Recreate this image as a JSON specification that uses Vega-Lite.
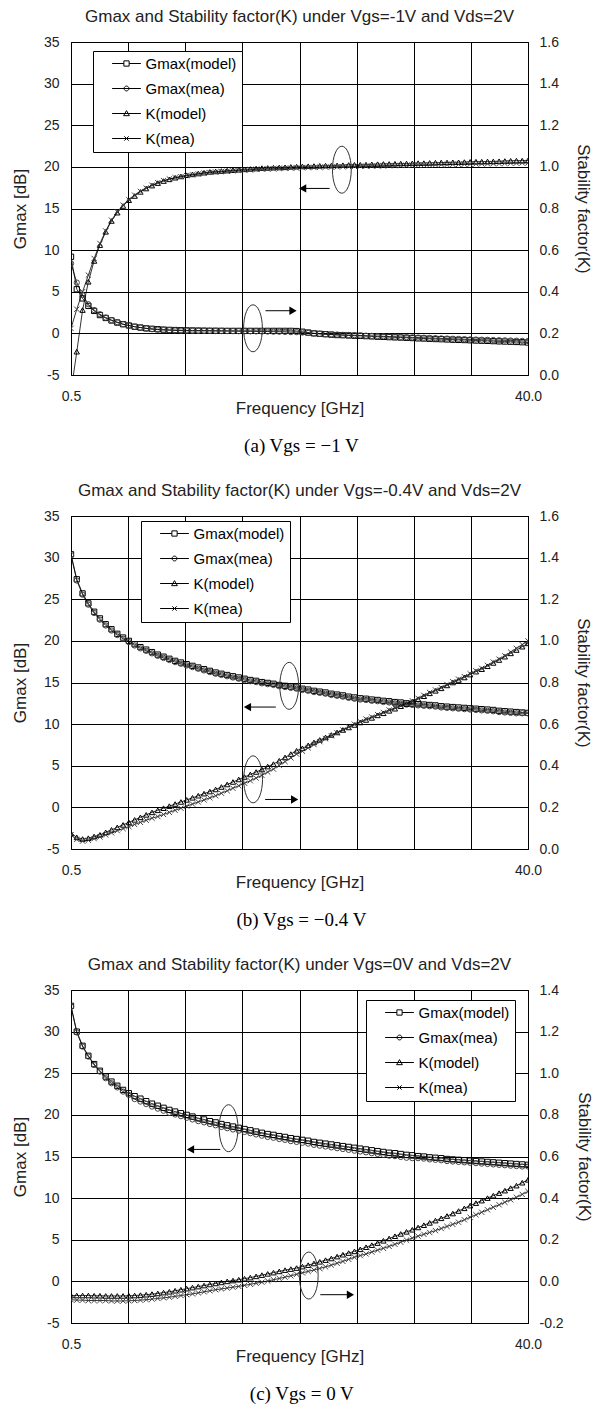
{
"$schema":"https://vega.github.io/schema/vega-lite/v6.json",
"background":"white",
"padding":{"left":10,"top":7,"right":5,"bottom":5},
"config":{"view":{"stroke":"black","strokeWidth":1},"font":"Liberation Sans",
"axis":{"labelFont":"Liberation Sans","labelFontSize":14,"labelColor":"#222","titleFont":"Liberation Sans","titleFontSize":17,"titleFontWeight":"normal","titleColor":"#222","ticks":false,"domain":false,"gridColor":"black","gridOpacity":1,"gridWidth":1},
"legend":{"title":null,"orient":"none","padding":5,"rowPadding":9,"strokeColor":"black","fillColor":"white","labelFont":"Liberation Sans","labelFontSize":15,"labelColor":"black","symbolSize":92,"symbolOffset":21,"labelOffset":11.5,"symbolOpacity":1,"symbolFillColor":"transparent","symbolStrokeColor":"black","symbolStrokeWidth":1},
"title":{"font":"Liberation Sans","fontSize":17,"fontWeight":"normal","color":"#222"}},
"datasets":{
"a":[
{"f":0.5,"gm":9.2,"ge":8.4,"km":-0.08,"ke":0.224},{"f":1,"gm":5.3,"ge":6.1,"km":0.112,"ke":0.316},{"f":1.5,"gm":4.2,"ge":4.6,"km":0.312,"ke":0.4},{"f":2,"gm":3.3,"ge":3.5,"km":0.448,"ke":0.48},{"f":2.5,"gm":2.7,"ge":2.8,"km":0.548,"ke":0.56},{"f":3,"gm":2.2,"ge":2.3,"km":0.624,"ke":0.632},{"f":3.5,"gm":1.85,"ge":1.9,"km":0.688,"ke":0.692},{"f":4,"gm":1.55,"ge":1.6,"km":0.74,"ke":0.744},{"f":4.5,"gm":1.3,"ge":1.35,"km":0.78,"ke":0.784},{"f":5,"gm":1.1,"ge":1.1,"km":0.812,"ke":0.816},
{"f":5.5,"gm":0.95,"ge":0.95,"km":0.84,"ke":0.842},{"f":6,"gm":0.8,"ge":0.8,"km":0.86,"ke":0.864},{"f":6.5,"gm":0.7,"ge":0.7,"km":0.88,"ke":0.882},{"f":7,"gm":0.6,"ge":0.6,"km":0.896,"ke":0.898},{"f":7.5,"gm":0.55,"ge":0.5,"km":0.91,"ke":0.912},{"f":8,"gm":0.5,"ge":0.45,"km":0.922,"ke":0.924},{"f":8.5,"gm":0.45,"ge":0.4,"km":0.932,"ke":0.934},{"f":9,"gm":0.42,"ge":0.38,"km":0.94,"ke":0.942},{"f":9.5,"gm":0.4,"ge":0.35,"km":0.948,"ke":0.948},{"f":10,"gm":0.38,"ge":0.33,"km":0.954,"ke":0.953},
{"f":10.5,"gm":0.36,"ge":0.32,"km":0.96,"ke":0.958},{"f":11,"gm":0.35,"ge":0.3,"km":0.964,"ke":0.962},{"f":11.5,"gm":0.34,"ge":0.3,"km":0.968,"ke":0.966},{"f":12,"gm":0.33,"ge":0.3,"km":0.972,"ke":0.97},{"f":12.5,"gm":0.32,"ge":0.3,"km":0.976,"ke":0.973},{"f":13,"gm":0.32,"ge":0.28,"km":0.978,"ke":0.975},{"f":13.5,"gm":0.31,"ge":0.28,"km":0.98,"ke":0.977},{"f":14,"gm":0.3,"ge":0.28,"km":0.982,"ke":0.979},{"f":14.5,"gm":0.3,"ge":0.27,"km":0.984,"ke":0.981},{"f":15,"gm":0.3,"ge":0.26,"km":0.986,"ke":0.983},
{"f":15.5,"gm":0.3,"ge":0.25,"km":0.988,"ke":0.984},{"f":16,"gm":0.3,"ge":0.25,"km":0.99,"ke":0.986},{"f":16.5,"gm":0.3,"ge":0.24,"km":0.992,"ke":0.988},{"f":17,"gm":0.3,"ge":0.23,"km":0.994,"ke":0.989},{"f":17.5,"gm":0.3,"ge":0.22,"km":0.995,"ke":0.99},{"f":18,"gm":0.3,"ge":0.2,"km":0.996,"ke":0.991},{"f":18.5,"gm":0.3,"ge":0.2,"km":0.997,"ke":0.992},{"f":19,"gm":0.3,"ge":0.18,"km":0.998,"ke":0.993},{"f":19.5,"gm":0.3,"ge":0.15,"km":1.0,"ke":0.994},{"f":20,"gm":0.28,"ge":0.15,"km":1.001,"ke":0.995},
{"f":20.5,"gm":0.2,"ge":0.1,"km":1.002,"ke":0.996},{"f":21,"gm":0.1,"ge":0.05,"km":1.003,"ke":0.997},{"f":21.5,"gm":0.0,"ge":0.0,"km":1.004,"ke":0.997},{"f":22,"gm":-0.05,"ge":-0.05,"km":1.005,"ke":0.998},{"f":22.5,"gm":-0.1,"ge":-0.1,"km":1.006,"ke":0.999},{"f":23,"gm":-0.15,"ge":-0.12,"km":1.006,"ke":0.999},{"f":23.5,"gm":-0.2,"ge":-0.15,"km":1.007,"ke":1.0},{"f":24,"gm":-0.22,"ge":-0.18,"km":1.008,"ke":1.001},{"f":24.5,"gm":-0.25,"ge":-0.2,"km":1.009,"ke":1.001},{"f":25,"gm":-0.28,"ge":-0.22,"km":1.01,"ke":1.002},
{"f":25.5,"gm":-0.3,"ge":-0.25,"km":1.01,"ke":1.003},{"f":26,"gm":-0.33,"ge":-0.28,"km":1.011,"ke":1.003},{"f":26.5,"gm":-0.36,"ge":-0.3,"km":1.012,"ke":1.004},{"f":27,"gm":-0.4,"ge":-0.32,"km":1.013,"ke":1.004},{"f":27.5,"gm":-0.42,"ge":-0.35,"km":1.014,"ke":1.005},{"f":28,"gm":-0.45,"ge":-0.38,"km":1.014,"ke":1.006},{"f":28.5,"gm":-0.48,"ge":-0.4,"km":1.015,"ke":1.006},{"f":29,"gm":-0.5,"ge":-0.42,"km":1.016,"ke":1.007},{"f":29.5,"gm":-0.53,"ge":-0.45,"km":1.016,"ke":1.007},{"f":30,"gm":-0.56,"ge":-0.48,"km":1.017,"ke":1.008},
{"f":30.5,"gm":-0.6,"ge":-0.5,"km":1.018,"ke":1.008},{"f":31,"gm":-0.62,"ge":-0.52,"km":1.018,"ke":1.009},{"f":31.5,"gm":-0.65,"ge":-0.55,"km":1.019,"ke":1.009},{"f":32,"gm":-0.68,"ge":-0.57,"km":1.02,"ke":1.01},{"f":32.5,"gm":-0.7,"ge":-0.6,"km":1.021,"ke":1.011},{"f":33,"gm":-0.73,"ge":-0.62,"km":1.021,"ke":1.011},{"f":33.5,"gm":-0.76,"ge":-0.65,"km":1.022,"ke":1.012},{"f":34,"gm":-0.78,"ge":-0.67,"km":1.022,"ke":1.012},{"f":34.5,"gm":-0.8,"ge":-0.7,"km":1.023,"ke":1.013},{"f":35,"gm":-0.83,"ge":-0.72,"km":1.024,"ke":1.013},
{"f":35.5,"gm":-0.86,"ge":-0.74,"km":1.025,"ke":1.014},{"f":36,"gm":-0.88,"ge":-0.76,"km":1.025,"ke":1.015},{"f":36.5,"gm":-0.9,"ge":-0.78,"km":1.026,"ke":1.015},{"f":37,"gm":-0.93,"ge":-0.8,"km":1.026,"ke":1.016},{"f":37.5,"gm":-0.96,"ge":-0.82,"km":1.027,"ke":1.016},{"f":38,"gm":-0.98,"ge":-0.84,"km":1.028,"ke":1.017},{"f":38.5,"gm":-1.0,"ge":-0.86,"km":1.029,"ke":1.018},{"f":39,"gm":-1.03,"ge":-0.88,"km":1.03,"ke":1.018},{"f":39.5,"gm":-1.06,"ge":-0.9,"km":1.03,"ke":1.019},{"f":40,"gm":-1.1,"ge":-0.92,"km":1.031,"ke":1.019}],
"b":[
{"f":0.5,"gm":30.4,"ge":30.3,"km":0.076,"ke":0.068},{"f":1,"gm":27.4,"ge":27.25,"km":0.056,"ke":0.046},{"f":1.5,"gm":25.7,"ge":25.55,"km":0.048,"ke":0.038},{"f":2,"gm":24.5,"ge":24.35,"km":0.052,"ke":0.042},{"f":2.5,"gm":23.5,"ge":23.35,"km":0.06,"ke":0.05},{"f":3,"gm":22.7,"ge":22.55,"km":0.068,"ke":0.058},{"f":3.5,"gm":22.0,"ge":21.85,"km":0.08,"ke":0.068},{"f":4,"gm":21.4,"ge":21.25,"km":0.092,"ke":0.078},{"f":4.5,"gm":20.85,"ge":20.7,"km":0.104,"ke":0.088},{"f":5,"gm":20.4,"ge":20.25,"km":0.116,"ke":0.098},
{"f":5.5,"gm":20.0,"ge":19.85,"km":0.128,"ke":0.108},{"f":6,"gm":19.6,"ge":19.45,"km":0.14,"ke":0.118},{"f":6.5,"gm":19.25,"ge":19.1,"km":0.152,"ke":0.128},{"f":7,"gm":18.95,"ge":18.8,"km":0.164,"ke":0.138},{"f":7.5,"gm":18.65,"ge":18.5,"km":0.176,"ke":0.148},{"f":8,"gm":18.35,"ge":18.2,"km":0.186,"ke":0.156},{"f":8.5,"gm":18.1,"ge":17.95,"km":0.196,"ke":0.166},{"f":9,"gm":17.85,"ge":17.7,"km":0.206,"ke":0.176},{"f":9.5,"gm":17.6,"ge":17.45,"km":0.216,"ke":0.186},{"f":10,"gm":17.4,"ge":17.25,"km":0.226,"ke":0.196},
{"f":10.5,"gm":17.2,"ge":17.05,"km":0.236,"ke":0.206},{"f":11,"gm":17.0,"ge":16.85,"km":0.246,"ke":0.216},{"f":11.5,"gm":16.8,"ge":16.65,"km":0.256,"ke":0.226},{"f":12,"gm":16.6,"ge":16.45,"km":0.266,"ke":0.236},{"f":12.5,"gm":16.4,"ge":16.25,"km":0.276,"ke":0.246},{"f":13,"gm":16.2,"ge":16.05,"km":0.286,"ke":0.256},{"f":13.5,"gm":16.05,"ge":15.9,"km":0.298,"ke":0.268},{"f":14,"gm":15.9,"ge":15.75,"km":0.31,"ke":0.28},{"f":14.5,"gm":15.75,"ge":15.6,"km":0.322,"ke":0.292},{"f":15,"gm":15.6,"ge":15.45,"km":0.334,"ke":0.304},
{"f":15.5,"gm":15.45,"ge":15.3,"km":0.346,"ke":0.316},{"f":16,"gm":15.3,"ge":15.15,"km":0.358,"ke":0.328},{"f":16.5,"gm":15.2,"ge":15.05,"km":0.37,"ke":0.341},{"f":17,"gm":15.05,"ge":14.9,"km":0.382,"ke":0.354},{"f":17.5,"gm":14.95,"ge":14.8,"km":0.396,"ke":0.37},{"f":18,"gm":14.85,"ge":14.7,"km":0.408,"ke":0.384},{"f":18.5,"gm":14.7,"ge":14.55,"km":0.424,"ke":0.402},{"f":19,"gm":14.6,"ge":14.45,"km":0.44,"ke":0.42},{"f":19.5,"gm":14.5,"ge":14.35,"km":0.456,"ke":0.438},{"f":20,"gm":14.4,"ge":14.25,"km":0.472,"ke":0.456},
{"f":20.5,"gm":14.25,"ge":14.1,"km":0.484,"ke":0.47},{"f":21,"gm":14.15,"ge":14.0,"km":0.498,"ke":0.486},{"f":21.5,"gm":14.0,"ge":13.85,"km":0.512,"ke":0.502},{"f":22,"gm":13.9,"ge":13.75,"km":0.524,"ke":0.516},{"f":22.5,"gm":13.8,"ge":13.65,"km":0.536,"ke":0.53},{"f":23,"gm":13.65,"ge":13.5,"km":0.548,"ke":0.544},{"f":23.5,"gm":13.55,"ge":13.4,"km":0.56,"ke":0.558},{"f":24,"gm":13.45,"ge":13.3,"km":0.572,"ke":0.572},{"f":24.5,"gm":13.3,"ge":13.15,"km":0.584,"ke":0.586},{"f":25,"gm":13.2,"ge":13.05,"km":0.596,"ke":0.6},
{"f":25.5,"gm":13.1,"ge":12.95,"km":0.608,"ke":0.612},{"f":26,"gm":13.05,"ge":12.9,"km":0.62,"ke":0.624},{"f":26.5,"gm":12.95,"ge":12.8,"km":0.63,"ke":0.634},{"f":27,"gm":12.9,"ge":12.75,"km":0.642,"ke":0.646},{"f":27.5,"gm":12.8,"ge":12.65,"km":0.652,"ke":0.656},{"f":28,"gm":12.75,"ge":12.6,"km":0.664,"ke":0.668},{"f":28.5,"gm":12.65,"ge":12.5,"km":0.674,"ke":0.678},{"f":29,"gm":12.6,"ge":12.45,"km":0.686,"ke":0.69},{"f":29.5,"gm":12.5,"ge":12.35,"km":0.696,"ke":0.7},{"f":30,"gm":12.45,"ge":12.3,"km":0.708,"ke":0.712},
{"f":30.5,"gm":12.4,"ge":12.25,"km":0.72,"ke":0.724},{"f":31,"gm":12.35,"ge":12.2,"km":0.734,"ke":0.738},{"f":31.5,"gm":12.3,"ge":12.15,"km":0.748,"ke":0.752},{"f":32,"gm":12.25,"ge":12.1,"km":0.76,"ke":0.764},{"f":32.5,"gm":12.15,"ge":12.0,"km":0.772,"ke":0.776},{"f":33,"gm":12.1,"ge":11.95,"km":0.786,"ke":0.79},{"f":33.5,"gm":12.05,"ge":11.9,"km":0.8,"ke":0.804},{"f":34,"gm":12.0,"ge":11.85,"km":0.812,"ke":0.816},{"f":34.5,"gm":11.95,"ge":11.8,"km":0.824,"ke":0.828},{"f":35,"gm":11.9,"ge":11.75,"km":0.838,"ke":0.842},
{"f":35.5,"gm":11.85,"ge":11.7,"km":0.852,"ke":0.856},{"f":36,"gm":11.8,"ge":11.65,"km":0.864,"ke":0.868},{"f":36.5,"gm":11.75,"ge":11.6,"km":0.878,"ke":0.882},{"f":37,"gm":11.7,"ge":11.55,"km":0.894,"ke":0.898},{"f":37.5,"gm":11.6,"ge":11.45,"km":0.908,"ke":0.912},{"f":38,"gm":11.55,"ge":11.4,"km":0.924,"ke":0.928},{"f":38.5,"gm":11.5,"ge":11.35,"km":0.94,"ke":0.946},{"f":39,"gm":11.45,"ge":11.3,"km":0.956,"ke":0.964},{"f":39.5,"gm":11.4,"ge":11.3,"km":0.972,"ke":0.982},{"f":40,"gm":11.35,"ge":11.3,"km":0.988,"ke":1.0}],
"c":[
{"f":0.5,"gm":33.1,"ge":33.0,"km":-0.068,"ke":-0.088},{"f":1,"gm":30.0,"ge":29.9,"km":-0.068,"ke":-0.09},{"f":1.5,"gm":28.3,"ge":28.2,"km":-0.068,"ke":-0.09},{"f":2,"gm":27.1,"ge":27.0,"km":-0.068,"ke":-0.092},{"f":2.5,"gm":26.1,"ge":26.0,"km":-0.069,"ke":-0.092},{"f":3,"gm":25.3,"ge":25.2,"km":-0.069,"ke":-0.092},{"f":3.5,"gm":24.6,"ge":24.4,"km":-0.07,"ke":-0.092},{"f":4,"gm":24.0,"ge":23.8,"km":-0.07,"ke":-0.094},{"f":4.5,"gm":23.5,"ge":23.3,"km":-0.07,"ke":-0.094},{"f":5,"gm":23.0,"ge":22.8,"km":-0.07,"ke":-0.094},
{"f":5.5,"gm":22.6,"ge":22.4,"km":-0.069,"ke":-0.093},{"f":6,"gm":22.25,"ge":21.9,"km":-0.068,"ke":-0.092},{"f":6.5,"gm":21.95,"ge":21.6,"km":-0.066,"ke":-0.09},{"f":7,"gm":21.65,"ge":21.3,"km":-0.064,"ke":-0.088},{"f":7.5,"gm":21.35,"ge":21.0,"km":-0.061,"ke":-0.085},{"f":8,"gm":21.1,"ge":20.75,"km":-0.058,"ke":-0.082},{"f":8.5,"gm":20.85,"ge":20.5,"km":-0.054,"ke":-0.079},{"f":9,"gm":20.6,"ge":20.25,"km":-0.05,"ke":-0.076},{"f":9.5,"gm":20.4,"ge":20.05,"km":-0.045,"ke":-0.072},{"f":10,"gm":20.2,"ge":19.85,"km":-0.04,"ke":-0.068},
{"f":10.5,"gm":20.0,"ge":19.65,"km":-0.035,"ke":-0.064},{"f":11,"gm":19.8,"ge":19.45,"km":-0.03,"ke":-0.06},{"f":11.5,"gm":19.6,"ge":19.25,"km":-0.025,"ke":-0.055},{"f":12,"gm":19.45,"ge":19.1,"km":-0.02,"ke":-0.05},{"f":12.5,"gm":19.25,"ge":18.9,"km":-0.015,"ke":-0.045},{"f":13,"gm":19.1,"ge":18.75,"km":-0.01,"ke":-0.04},{"f":13.5,"gm":18.9,"ge":18.55,"km":-0.005,"ke":-0.036},{"f":14,"gm":18.75,"ge":18.4,"km":0.0,"ke":-0.032},{"f":14.5,"gm":18.6,"ge":18.25,"km":0.004,"ke":-0.028},{"f":15,"gm":18.45,"ge":18.1,"km":0.008,"ke":-0.024},
{"f":15.5,"gm":18.3,"ge":17.95,"km":0.013,"ke":-0.019},{"f":16,"gm":18.15,"ge":17.8,"km":0.018,"ke":-0.014},{"f":16.5,"gm":18.0,"ge":17.65,"km":0.024,"ke":-0.009},{"f":17,"gm":17.85,"ge":17.5,"km":0.03,"ke":-0.004},{"f":17.5,"gm":17.7,"ge":17.35,"km":0.036,"ke":0.002},{"f":18,"gm":17.6,"ge":17.25,"km":0.042,"ke":0.008},{"f":18.5,"gm":17.45,"ge":17.1,"km":0.048,"ke":0.014},{"f":19,"gm":17.35,"ge":17.0,"km":0.054,"ke":0.02},{"f":19.5,"gm":17.2,"ge":16.85,"km":0.059,"ke":0.027},{"f":20,"gm":17.1,"ge":16.75,"km":0.064,"ke":0.034},
{"f":20.5,"gm":17.0,"ge":16.65,"km":0.071,"ke":0.041},{"f":21,"gm":16.9,"ge":16.55,"km":0.078,"ke":0.048},{"f":21.5,"gm":16.75,"ge":16.4,"km":0.086,"ke":0.055},{"f":22,"gm":16.65,"ge":16.3,"km":0.094,"ke":0.062},{"f":22.5,"gm":16.55,"ge":16.2,"km":0.102,"ke":0.07},{"f":23,"gm":16.45,"ge":16.1,"km":0.11,"ke":0.078},{"f":23.5,"gm":16.35,"ge":16.0,"km":0.119,"ke":0.087},{"f":24,"gm":16.25,"ge":15.9,"km":0.128,"ke":0.096},{"f":24.5,"gm":16.15,"ge":15.8,"km":0.136,"ke":0.106},{"f":25,"gm":16.05,"ge":15.7,"km":0.144,"ke":0.116},
{"f":25.5,"gm":15.95,"ge":15.6,"km":0.154,"ke":0.124},{"f":26,"gm":15.85,"ge":15.5,"km":0.164,"ke":0.132},{"f":26.5,"gm":15.75,"ge":15.4,"km":0.174,"ke":0.141},{"f":27,"gm":15.65,"ge":15.3,"km":0.184,"ke":0.15},{"f":27.5,"gm":15.55,"ge":15.2,"km":0.195,"ke":0.159},{"f":28,"gm":15.45,"ge":15.1,"km":0.206,"ke":0.168},{"f":28.5,"gm":15.4,"ge":15.05,"km":0.217,"ke":0.178},{"f":29,"gm":15.3,"ge":14.95,"km":0.228,"ke":0.188},{"f":29.5,"gm":15.2,"ge":14.85,"km":0.238,"ke":0.198},{"f":30,"gm":15.15,"ge":14.8,"km":0.248,"ke":0.208},
{"f":30.5,"gm":15.05,"ge":14.8,"km":0.259,"ke":0.217},{"f":31,"gm":15.0,"ge":14.75,"km":0.27,"ke":0.226},{"f":31.5,"gm":14.9,"ge":14.65,"km":0.281,"ke":0.235},{"f":32,"gm":14.85,"ge":14.6,"km":0.292,"ke":0.244},{"f":32.5,"gm":14.8,"ge":14.55,"km":0.303,"ke":0.254},{"f":33,"gm":14.7,"ge":14.45,"km":0.314,"ke":0.264},{"f":33.5,"gm":14.65,"ge":14.4,"km":0.326,"ke":0.274},{"f":34,"gm":14.6,"ge":14.35,"km":0.338,"ke":0.284},{"f":34.5,"gm":14.55,"ge":14.3,"km":0.351,"ke":0.296},{"f":35,"gm":14.5,"ge":14.25,"km":0.364,"ke":0.308},
{"f":35.5,"gm":14.45,"ge":14.2,"km":0.376,"ke":0.32},{"f":36,"gm":14.4,"ge":14.15,"km":0.388,"ke":0.332},{"f":36.5,"gm":14.35,"ge":14.1,"km":0.4,"ke":0.344},{"f":37,"gm":14.3,"ge":14.05,"km":0.412,"ke":0.356},{"f":37.5,"gm":14.25,"ge":14.0,"km":0.424,"ke":0.368},{"f":38,"gm":14.2,"ge":13.95,"km":0.436,"ke":0.38},{"f":38.5,"gm":14.15,"ge":13.9,"km":0.448,"ke":0.392},{"f":39,"gm":14.1,"ge":13.85,"km":0.46,"ke":0.404},{"f":39.5,"gm":14.05,"ge":13.8,"km":0.474,"ke":0.418},{"f":40,"gm":14.0,"ge":13.8,"km":0.488,"ke":0.432}],
"na":[{"kind":"e","f":23.91,"v":19.66},{"kind":"e","f":16.23,"v":0.61},{"kind":"l","f":22.85,"f2":20.52,"v":17.41},{"kind":"r","f":17.31,"f2":19.69,"v":2.72},{"kind":"hl","f":20.52,"v":17.41},{"kind":"hr","f":19.69,"v":2.72}],
"nb":[{"kind":"e","f":19.36,"v":14.6},{"kind":"e","f":16.24,"v":3.37},{"kind":"l","f":18.2,"f2":15.75,"v":12.05},{"kind":"r","f":17.28,"f2":19.83,"v":0.95},{"kind":"hl","f":15.75,"v":12.05},{"kind":"hr","f":19.83,"v":0.95}],
"nc":[{"kind":"e","f":14.12,"v":18.4},{"kind":"e","f":21.05,"v":0.7},{"kind":"l","f":13.4,"f2":10.83,"v":15.85},{"kind":"r","f":22.05,"f2":24.65,"v":-1.6},{"kind":"hl","f":10.83,"v":15.85},{"kind":"hr","f":24.65,"v":-1.6}]
},
"vconcat":[
{"title":{"text":"(a) Vgs = −1 V","orient":"bottom","font":"Liberation Serif","fontSize":19,"offset":20,"anchor":"middle","color":"black"},
"vconcat":[{
"title":{"text":"Gmax and Stability factor(K) under Vgs=-1V and Vds=2V","offset":9.5,"frame":"group","anchor":"middle"},
"width":457,"height":333,
"encoding":{"x":{"field":"f","type":"quantitative","scale":{"domain":[0.5,40],"nice":false,"zero":false},"axis":{"values":[0.5,5.4375,10.375,15.3125,20.25,25.1875,30.125,35.0625,40],"labelExpr":"datum.value < 1 ? '0.5' : datum.value > 39 ? '40.0' : ''","labelFlush":false,"labelPadding":14,"grid":true,"title":"Frequency [GHz]","titlePadding":-3}}},
"resolve":{"scale":{"y":"independent","shape":"independent"}},
"layer":[
{"data":{"name":"a"},"transform":[{"fold":["gm","ge"],"as":["s","v"]}],
"encoding":{"y":{"field":"v","type":"quantitative","scale":{"domain":[-5,35],"nice":false,"zero":false},"axis":{"orient":"left","values":[-5,0,5,10,15,20,25,30,35],"labelExpr":"replace(datum.label,'−','-')","grid":true,"title":"Gmax [dB]","labelPadding":12,"titlePadding":14}}},
"layer":[
{"mark":{"type":"line","color":"black","strokeWidth":0.8,"clip":true},"encoding":{"detail":{"field":"s"}}},
{"mark":{"type":"point","filled":false,"size":28,"strokeWidth":1,"clip":true,"opacity":1},
"encoding":{"shape":{"field":"s","type":"nominal","scale":{"domain":["gm","ge"],"range":["square","circle"]},"legend":null},
"stroke":{"field":"s","type":"nominal","scale":{"domain":["gm","ge"],"range":["#000","#444"]},"legend":null}}}
]},
{"data":{"name":"a"},"transform":[{"fold":["km","ke"],"as":["s","v"]}],
"encoding":{"y":{"field":"v","type":"quantitative","scale":{"domain":[0,1.6],"nice":false,"zero":false},"axis":{"orient":"right","values":[0,0.2,0.4,0.6,0.8,1,1.2,1.4,1.6],"format":".1f","grid":false,"title":"Stability factor(K)","labelPadding":11,"titlePadding":15}}},
"layer":[
{"mark":{"type":"line","color":"black","strokeWidth":0.8,"clip":true},"encoding":{"detail":{"field":"s"}}},
{"mark":{"type":"point","filled":false,"size":28,"strokeWidth":1,"clip":true,"opacity":1},
"encoding":{"shape":{"field":"s","type":"nominal","scale":{"domain":["km","ke"],"range":["triangle-up","M-1,-1L1,1M-1,1L1,-1"]},"legend":null},
"stroke":{"field":"s","type":"nominal","scale":{"domain":["km","ke"],"range":["#000","#444"]},"legend":null}}}
]},
{"data":{"name":"na"},
"encoding":{"y":{"field":"v","type":"quantitative","scale":{"domain":[-5,35],"nice":false,"zero":false},"axis":null}},
"layer":[
{"transform":[{"filter":"datum.kind=='e'"}],"mark":{"type":"point","shape":"M0,-1C0.22,-1 0.4,-0.55 0.4,0C0.4,0.55 0.22,1 0,1C-0.22,1 -0.4,0.55 -0.4,0C-0.4,-0.55 -0.22,-1 0,-1Z","size":2209,"filled":false,"stroke":"#333","strokeWidth":1,"opacity":1}},
{"transform":[{"filter":"datum.kind=='l' || datum.kind=='r'"}],"mark":{"type":"rule","color":"black","strokeWidth":1},"encoding":{"x2":{"field":"f2"}}},
{"transform":[{"filter":"datum.kind=='hl'"}],"mark":{"type":"point","shape":"triangle-left","size":70,"filled":true,"color":"black","opacity":1}},
{"transform":[{"filter":"datum.kind=='hr'"}],"mark":{"type":"point","shape":"triangle-right","size":70,"filled":true,"color":"black","opacity":1}},
{"data":{"name":"a"},"transform":[{"fold":["gm","ge","km","ke"],"as":["s","v"]}],"mark":{"type":"point","filled":false,"opacity":0,"clip":true},
"encoding":{"shape":{"field":"s","type":"nominal","scale":{"domain":["gm","ge","km","ke"],"range":["M-3,0H-0.55M0.55,0H3M-0.55,-0.55H0.55V0.55H-0.55Z","M-3,0H3M0.5,0C0.5,0.28 0.28,0.5 0,0.5C-0.28,0.5 -0.5,0.28 -0.5,0C-0.5,-0.28 -0.28,-0.5 0,-0.5C0.28,-0.5 0.5,-0.28 0.5,0Z","M-3,0H3M-0.6,0.45L0,-0.6L0.6,0.45Z","M-3,0H3M-0.45,-0.45L0.45,0.45M-0.45,0.45L0.45,-0.45"]},"legend":{"legendX":22,"legendY":9,"labelExpr":"datum.value=='gm'?'Gmax(model)':datum.value=='ge'?'Gmax(mea)':datum.value=='km'?'K(model)':'K(mea)'"}}}}
]}
]}]},
{"title":{"text":"(b) Vgs = −0.4 V","orient":"bottom","font":"Liberation Serif","fontSize":19,"offset":20,"anchor":"middle","color":"black"},
"vconcat":[{
"title":{"text":"Gmax and Stability factor(K) under Vgs=-0.4V and Vds=2V","offset":9.5,"frame":"group","anchor":"middle"},
"width":457,"height":333,
"encoding":{"x":{"field":"f","type":"quantitative","scale":{"domain":[0.5,40],"nice":false,"zero":false},"axis":{"values":[0.5,5.4375,10.375,15.3125,20.25,25.1875,30.125,35.0625,40],"labelExpr":"datum.value < 1 ? '0.5' : datum.value > 39 ? '40.0' : ''","labelFlush":false,"labelPadding":14,"grid":true,"title":"Frequency [GHz]","titlePadding":-3}}},
"resolve":{"scale":{"y":"independent","shape":"independent"}},
"layer":[
{"data":{"name":"b"},"transform":[{"fold":["gm","ge"],"as":["s","v"]}],
"encoding":{"y":{"field":"v","type":"quantitative","scale":{"domain":[-5,35],"nice":false,"zero":false},"axis":{"orient":"left","values":[-5,0,5,10,15,20,25,30,35],"labelExpr":"replace(datum.label,'−','-')","grid":true,"title":"Gmax [dB]","labelPadding":12,"titlePadding":14}}},
"layer":[
{"mark":{"type":"line","color":"black","strokeWidth":0.8,"clip":true},"encoding":{"detail":{"field":"s"}}},
{"mark":{"type":"point","filled":false,"size":28,"strokeWidth":1,"clip":true,"opacity":1},
"encoding":{"shape":{"field":"s","type":"nominal","scale":{"domain":["gm","ge"],"range":["square","circle"]},"legend":null},
"stroke":{"field":"s","type":"nominal","scale":{"domain":["gm","ge"],"range":["#000","#444"]},"legend":null}}}
]},
{"data":{"name":"b"},"transform":[{"fold":["km","ke"],"as":["s","v"]}],
"encoding":{"y":{"field":"v","type":"quantitative","scale":{"domain":[0,1.6],"nice":false,"zero":false},"axis":{"orient":"right","values":[0,0.2,0.4,0.6,0.8,1,1.2,1.4,1.6],"format":".1f","grid":false,"title":"Stability factor(K)","labelPadding":11,"titlePadding":15}}},
"layer":[
{"mark":{"type":"line","color":"black","strokeWidth":0.8,"clip":true},"encoding":{"detail":{"field":"s"}}},
{"mark":{"type":"point","filled":false,"size":28,"strokeWidth":1,"clip":true,"opacity":1},
"encoding":{"shape":{"field":"s","type":"nominal","scale":{"domain":["km","ke"],"range":["triangle-up","M-1,-1L1,1M-1,1L1,-1"]},"legend":null},
"stroke":{"field":"s","type":"nominal","scale":{"domain":["km","ke"],"range":["#000","#444"]},"legend":null}}}
]},
{"data":{"name":"nb"},
"encoding":{"y":{"field":"v","type":"quantitative","scale":{"domain":[-5,35],"nice":false,"zero":false},"axis":null}},
"layer":[
{"transform":[{"filter":"datum.kind=='e'"}],"mark":{"type":"point","shape":"M0,-1C0.22,-1 0.4,-0.55 0.4,0C0.4,0.55 0.22,1 0,1C-0.22,1 -0.4,0.55 -0.4,0C-0.4,-0.55 -0.22,-1 0,-1Z","size":2209,"filled":false,"stroke":"#333","strokeWidth":1,"opacity":1}},
{"transform":[{"filter":"datum.kind=='l' || datum.kind=='r'"}],"mark":{"type":"rule","color":"black","strokeWidth":1},"encoding":{"x2":{"field":"f2"}}},
{"transform":[{"filter":"datum.kind=='hl'"}],"mark":{"type":"point","shape":"triangle-left","size":70,"filled":true,"color":"black","opacity":1}},
{"transform":[{"filter":"datum.kind=='hr'"}],"mark":{"type":"point","shape":"triangle-right","size":70,"filled":true,"color":"black","opacity":1}},
{"data":{"name":"b"},"transform":[{"fold":["gm","ge","km","ke"],"as":["s","v"]}],"mark":{"type":"point","filled":false,"opacity":0,"clip":true},
"encoding":{"shape":{"field":"s","type":"nominal","scale":{"domain":["gm","ge","km","ke"],"range":["M-3,0H-0.55M0.55,0H3M-0.55,-0.55H0.55V0.55H-0.55Z","M-3,0H3M0.5,0C0.5,0.28 0.28,0.5 0,0.5C-0.28,0.5 -0.5,0.28 -0.5,0C-0.5,-0.28 -0.28,-0.5 0,-0.5C0.28,-0.5 0.5,-0.28 0.5,0Z","M-3,0H3M-0.6,0.45L0,-0.6L0.6,0.45Z","M-3,0H3M-0.45,-0.45L0.45,0.45M-0.45,0.45L0.45,-0.45"]},"legend":{"legendX":70,"legendY":5,"labelExpr":"datum.value=='gm'?'Gmax(model)':datum.value=='ge'?'Gmax(mea)':datum.value=='km'?'K(model)':'K(mea)'"}}}}
]}
]}]},
{"title":{"text":"(c) Vgs = 0 V","orient":"bottom","font":"Liberation Serif","fontSize":19,"offset":20,"anchor":"middle","color":"black"},
"vconcat":[{
"title":{"text":"Gmax and Stability factor(K) under Vgs=0V and Vds=2V","offset":9.5,"frame":"group","anchor":"middle"},
"width":457,"height":333,
"encoding":{"x":{"field":"f","type":"quantitative","scale":{"domain":[0.5,40],"nice":false,"zero":false},"axis":{"values":[0.5,5.4375,10.375,15.3125,20.25,25.1875,30.125,35.0625,40],"labelExpr":"datum.value < 1 ? '0.5' : datum.value > 39 ? '40.0' : ''","labelFlush":false,"labelPadding":14,"grid":true,"title":"Frequency [GHz]","titlePadding":-3}}},
"resolve":{"scale":{"y":"independent","shape":"independent"}},
"layer":[
{"data":{"name":"c"},"transform":[{"fold":["gm","ge"],"as":["s","v"]}],
"encoding":{"y":{"field":"v","type":"quantitative","scale":{"domain":[-5,35],"nice":false,"zero":false},"axis":{"orient":"left","values":[-5,0,5,10,15,20,25,30,35],"labelExpr":"replace(datum.label,'−','-')","grid":true,"title":"Gmax [dB]","labelPadding":12,"titlePadding":14}}},
"layer":[
{"mark":{"type":"line","color":"black","strokeWidth":0.8,"clip":true},"encoding":{"detail":{"field":"s"}}},
{"mark":{"type":"point","filled":false,"size":28,"strokeWidth":1,"clip":true,"opacity":1},
"encoding":{"shape":{"field":"s","type":"nominal","scale":{"domain":["gm","ge"],"range":["square","circle"]},"legend":null},
"stroke":{"field":"s","type":"nominal","scale":{"domain":["gm","ge"],"range":["#000","#444"]},"legend":null}}}
]},
{"data":{"name":"c"},"transform":[{"fold":["km","ke"],"as":["s","v"]}],
"encoding":{"y":{"field":"v","type":"quantitative","scale":{"domain":[-0.2,1.4],"nice":false,"zero":false},"axis":{"orient":"right","values":[-0.2,0,0.2,0.4,0.6,0.8,1,1.2,1.4],"format":".1f","labelExpr":"replace(datum.label,'−','-')","grid":false,"title":"Stability factor(K)","labelPadding":11,"titlePadding":11}}},
"layer":[
{"mark":{"type":"line","color":"black","strokeWidth":0.8,"clip":true},"encoding":{"detail":{"field":"s"}}},
{"mark":{"type":"point","filled":false,"size":28,"strokeWidth":1,"clip":true,"opacity":1},
"encoding":{"shape":{"field":"s","type":"nominal","scale":{"domain":["km","ke"],"range":["triangle-up","M-1,-1L1,1M-1,1L1,-1"]},"legend":null},
"stroke":{"field":"s","type":"nominal","scale":{"domain":["km","ke"],"range":["#000","#444"]},"legend":null}}}
]},
{"data":{"name":"nc"},
"encoding":{"y":{"field":"v","type":"quantitative","scale":{"domain":[-5,35],"nice":false,"zero":false},"axis":null}},
"layer":[
{"transform":[{"filter":"datum.kind=='e'"}],"mark":{"type":"point","shape":"M0,-1C0.22,-1 0.4,-0.55 0.4,0C0.4,0.55 0.22,1 0,1C-0.22,1 -0.4,0.55 -0.4,0C-0.4,-0.55 -0.22,-1 0,-1Z","size":2209,"filled":false,"stroke":"#333","strokeWidth":1,"opacity":1}},
{"transform":[{"filter":"datum.kind=='l' || datum.kind=='r'"}],"mark":{"type":"rule","color":"black","strokeWidth":1},"encoding":{"x2":{"field":"f2"}}},
{"transform":[{"filter":"datum.kind=='hl'"}],"mark":{"type":"point","shape":"triangle-left","size":70,"filled":true,"color":"black","opacity":1}},
{"transform":[{"filter":"datum.kind=='hr'"}],"mark":{"type":"point","shape":"triangle-right","size":70,"filled":true,"color":"black","opacity":1}},
{"data":{"name":"c"},"transform":[{"fold":["gm","ge","km","ke"],"as":["s","v"]}],"mark":{"type":"point","filled":false,"opacity":0,"clip":true},
"encoding":{"shape":{"field":"s","type":"nominal","scale":{"domain":["gm","ge","km","ke"],"range":["M-3,0H-0.55M0.55,0H3M-0.55,-0.55H0.55V0.55H-0.55Z","M-3,0H3M0.5,0C0.5,0.28 0.28,0.5 0,0.5C-0.28,0.5 -0.5,0.28 -0.5,0C-0.5,-0.28 -0.28,-0.5 0,-0.5C0.28,-0.5 0.5,-0.28 0.5,0Z","M-3,0H3M-0.6,0.45L0,-0.6L0.6,0.45Z","M-3,0H3M-0.45,-0.45L0.45,0.45M-0.45,0.45L0.45,-0.45"]},"legend":{"legendX":295,"legendY":10,"labelExpr":"datum.value=='gm'?'Gmax(model)':datum.value=='ge'?'Gmax(mea)':datum.value=='km'?'K(model)':'K(mea)'"}}}}
]}
]}]}
],
"spacing":25
}
